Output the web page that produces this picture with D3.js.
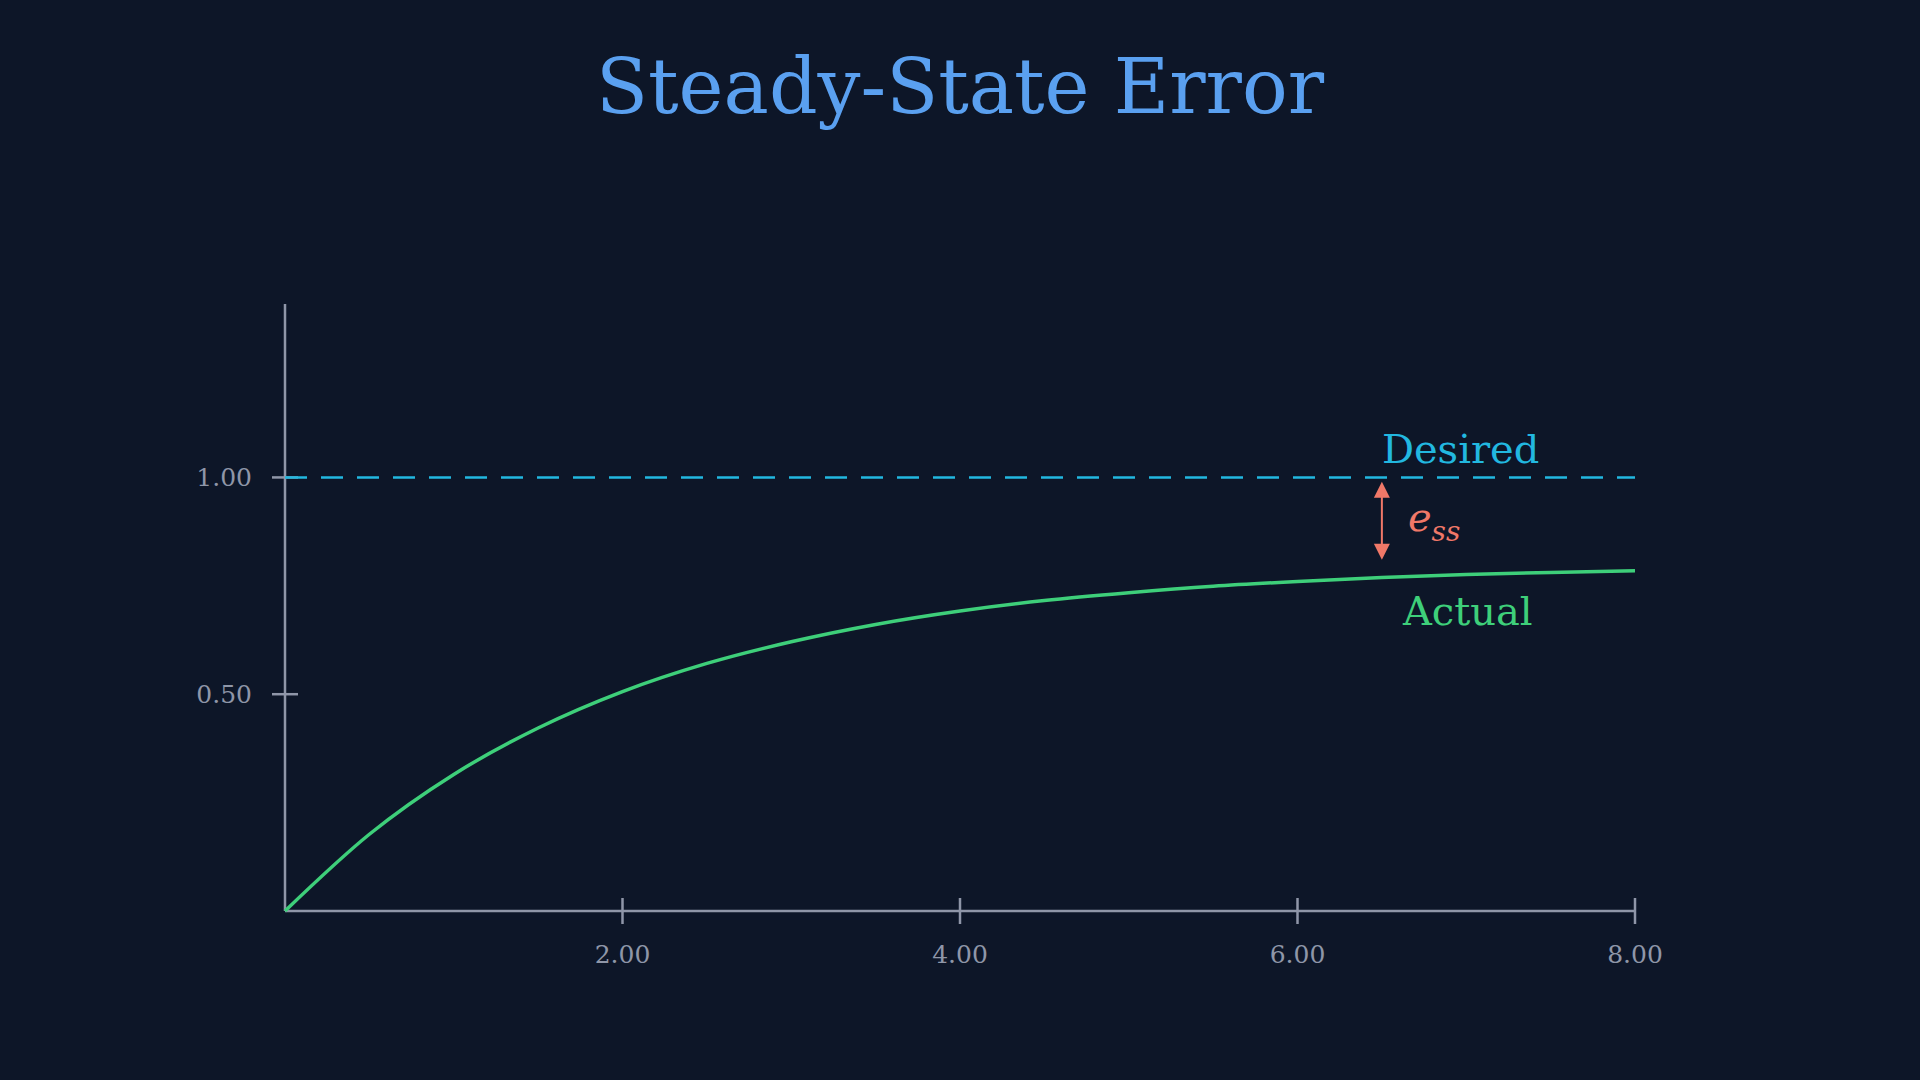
<!DOCTYPE html>
<html><head>
<script src="https://d3js.org/d3.v7.min.js"></script>
<style>
  body { margin:0; background:#0d1628; }
</style>
</head>
<body>
<svg id="chart" width="1920" height="1080"></svg>
<script>
// values
const timeValues = [0,0.5,1,1.5,2,2.5,3,3.5,4,4.5,5,5.5,6,6.5,7,7.5,8];
const actualValues = [0,0.177,0.315,0.422,0.506,0.571,0.621,0.661,0.692,0.716,0.734,0.749,0.760,0.769,0.776,0.781,0.785];
const desiredValue = 1.0;
const xTicks = [2,4,6,8];
const yTicks = [0.5,1.0];
const errorAt = 6.5;

const svg = d3.select("#chart");
const serif = "'DejaVu Serif', 'Liberation Serif', serif";
const axisColor = "#8f96a8";

const x = d3.scaleLinear().domain([0, 8]).range([285, 1635]);
const y = d3.scaleLinear().domain([0, 1.4]).range([911, 304]);

svg.append("rect").attr("width",1920).attr("height",1080).attr("fill","#0d1628");

svg.append("text").attr("x",960).attr("y",113).attr("text-anchor","middle")
  .attr("font-family",serif).attr("font-size",76).attr("fill","#5aa0f0")
  .text("Steady-State Error");

// axes
svg.append("line").attr("x1",x(0)).attr("x2",x(8)).attr("y1",y(0)).attr("y2",y(0))
  .attr("stroke",axisColor).attr("stroke-width",2.5);
svg.append("line").attr("x1",x(0)).attr("x2",x(0)).attr("y1",y(0)).attr("y2",y(1.4))
  .attr("stroke",axisColor).attr("stroke-width",2.5);

xTicks.forEach(t => {
  svg.append("line").attr("x1",x(t)).attr("x2",x(t)).attr("y1",y(0)-13).attr("y2",y(0)+13)
    .attr("stroke",axisColor).attr("stroke-width",2.5);
  svg.append("text").attr("x",x(t)).attr("y",y(0)+52).attr("text-anchor","middle")
    .attr("font-family",serif).attr("font-size",25).attr("fill",axisColor).text(t.toFixed(2));
});
yTicks.forEach(t => {
  svg.append("line").attr("x1",x(0)-13).attr("x2",x(0)+13).attr("y1",y(t)).attr("y2",y(t))
    .attr("stroke",axisColor).attr("stroke-width",2.5);
  svg.append("text").attr("x",x(0)-33).attr("y",y(t)+9).attr("text-anchor","end")
    .attr("font-family",serif).attr("font-size",25).attr("fill",axisColor).text(t.toFixed(2));
});

// desired line
svg.append("line").attr("x1",x(0)).attr("x2",x(8)).attr("y1",y(desiredValue)).attr("y2",y(desiredValue))
  .attr("stroke","#22b8e0").attr("stroke-width",2.5).attr("stroke-dasharray","22,14");

// actual curve
const line = d3.line().x((d,i)=>x(timeValues[i])).y(d=>y(d)).curve(d3.curveMonotoneX);
svg.append("path").datum(actualValues).attr("d",line).attr("fill","none")
  .attr("stroke","#3ecf7a").attr("stroke-width",3.5);

// error arrow
const ac = "#f07868";
const ex = x(errorAt), yTop = y(0.99), yBot = y(0.81);
svg.append("line").attr("x1",ex).attr("x2",ex).attr("y1",yTop+10).attr("y2",yBot-10)
  .attr("stroke",ac).attr("stroke-width",2);
svg.append("path").attr("d",`M${ex},${yTop} L${ex-8},${yTop+16} L${ex+8},${yTop+16} Z`).attr("fill",ac);
svg.append("path").attr("d",`M${ex},${yBot} L${ex-8},${yBot-16} L${ex+8},${yBot-16} Z`).attr("fill",ac);

const e = svg.append("text").attr("x",ex+26).attr("y",y(0.9)+10)
  .attr("font-family",serif).attr("font-style","italic").attr("font-size",40).attr("fill",ac);
e.append("tspan").text("e");
e.append("tspan").attr("font-size",28).attr("dy",10).text("ss");

svg.append("text").attr("x",ex).attr("y",y(desiredValue)-14)
  .attr("font-family",serif).attr("font-size",40).attr("fill","#22b8e0").text("Desired");
svg.append("text").attr("x",ex+21).attr("y",y(0.78)+52)
  .attr("font-family",serif).attr("font-size",40).attr("fill","#3ecf7a").text("Actual");
</script>
</body>
</html>
